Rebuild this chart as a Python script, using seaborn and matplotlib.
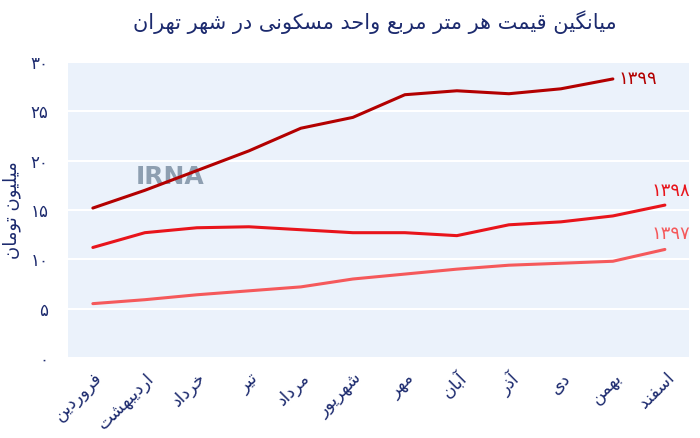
import numpy as np
import pandas as pd
import seaborn as sns
import matplotlib.pyplot as plt

# données (millions de tomans / m2)
mois = ["فروردین", "اردیبهشت", "خرداد", "تیر", "مرداد", "شهریور",
        "مهر", "آبان", "آذر", "دی", "بهمن", "اسفند"]
prix_1397 = [5.5, 5.9, 6.4, 6.8, 7.2, 8.0, 8.5, 9.0, 9.4, 9.6, 9.8, 11.0]
prix_1398 = [11.2, 12.7, 13.2, 13.3, 13.0, 12.7, 12.7, 12.4, 13.5, 13.8, 14.4, 15.5]
prix_1399 = [15.2, 17.0, 19.0, 21.0, 23.3, 24.4, 26.7, 27.1, 26.8, 27.3, 28.3, np.nan]
annees = ["۱۳۹۷", "۱۳۹۸", "۱۳۹۹"]
couleurs = ["#f5595b", "#e8141b", "#b30000"]
titre = "میانگین قیمت هر متر مربع واحد مسکونی در شهر تهران"
label_y = "میلیون تومان"
ticks_y = [0, 5, 10, 15, 20, 25, 30]
labels_y = ["۰", "۵", "۱۰", "۱۵", "۲۰", "۲۵", "۳۰"]

# mise en forme minimale des lettres persanes (matplotlib ne fait pas le shaping)
FORMES = {
    "ا": ("\ufe8d", "\ufe8e", None, None), "آ": ("\ufe81", "\ufe82", None, None),
    "ب": ("\ufe8f", "\ufe90", "\ufe91", "\ufe92"), "ت": ("\ufe95", "\ufe96", "\ufe97", "\ufe98"),
    "ح": ("\ufea1", "\ufea2", "\ufea3", "\ufea4"), "خ": ("\ufea5", "\ufea6", "\ufea7", "\ufea8"),
    "د": ("\ufea9", "\ufeaa", None, None), "ذ": ("\ufeab", "\ufeac", None, None),
    "ر": ("\ufead", "\ufeae", None, None), "س": ("\ufeb1", "\ufeb2", "\ufeb3", "\ufeb4"),
    "ش": ("\ufeb5", "\ufeb6", "\ufeb7", "\ufeb8"), "ع": ("\ufec9", "\ufeca", "\ufecb", "\ufecc"),
    "ف": ("\ufed1", "\ufed2", "\ufed3", "\ufed4"), "ق": ("\ufed5", "\ufed6", "\ufed7", "\ufed8"),
    "ک": ("\ufb8e", "\ufb8f", "\ufb90", "\ufb91"), "گ": ("\ufb92", "\ufb93", "\ufb94", "\ufb95"),
    "ل": ("\ufedd", "\ufede", "\ufedf", "\ufee0"), "م": ("\ufee1", "\ufee2", "\ufee3", "\ufee4"),
    "ن": ("\ufee5", "\ufee6", "\ufee7", "\ufee8"), "ه": ("\ufee9", "\ufeea", "\ufeeb", "\ufeec"),
    "و": ("\ufeed", "\ufeee", None, None), "ی": ("\ufbfc", "\ufbfd", "\ufbfe", "\ufbff"),
}


def persan(txt):
    out = []
    for i, c in enumerate(txt):
        if c not in FORMES:
            out.append(c)
            continue
        prev = txt[i - 1] if i > 0 else ""
        nxt = txt[i + 1] if i + 1 < len(txt) else ""
        lie_avant = prev in FORMES and FORMES[prev][2] is not None
        lie_apres = nxt in FORMES and FORMES[c][2] is not None
        iso, fin, ini, med = FORMES[c]
        if lie_avant and lie_apres:
            out.append(med)
        elif lie_avant:
            out.append(fin)
        elif lie_apres:
            out.append(ini)
        else:
            out.append(iso)
    return "".join(out)[::-1]


df = pd.DataFrame({
    "mois": list(range(12)) * 3,
    "prix": prix_1397 + prix_1398 + prix_1399,
    "annee": [a for a in annees for _ in range(12)],
})

sns.set_style("white")
plt.rcParams["font.family"] = ["DejaVu Sans"]
bleu = "#1c2a6e"

fig = plt.figure(figsize=(7, 4.38), dpi=100)
ax = fig.add_axes([0.097, 0.183, 0.887, 0.675])
ax.set_facecolor("#ebf2fb")

sns.lineplot(data=df, x="mois", y="prix", hue="annee",
             palette=dict(zip(annees, couleurs)), linewidth=2.2,
             legend=False, ax=ax)

ax.set_xlim(-0.48, 11.46)
ax.set_ylim(0, 29.8)
ax.set_yticks(ticks_y)
ax.set_yticklabels(labels_y, color=bleu, fontsize=12)
ax.set_xticks(range(12))
ax.set_xticklabels([persan(m) for m in mois], rotation=45, ha="right",
                   rotation_mode="anchor", color=bleu, fontsize=12.5)
ax.tick_params(axis="y", length=0, pad=14)
ax.tick_params(axis="x", length=0, pad=8)
ax.grid(axis="y", color="white", linewidth=1.5)
ax.set_axisbelow(True)
for s in ax.spines.values():
    s.set_visible(False)
ax.set_xlabel("")
ax.set_ylabel(persan(label_y), color=bleu, fontsize=13)
ax.yaxis.set_label_coords(-0.076, 0.5)

# étiquettes des séries
ax.annotate(annees[2], (10, prix_1399[10]), xytext=(4, 0), textcoords="offset points",
            color=couleurs[2], fontsize=13, va="center", ha="left")
ax.annotate(annees[1], (11, prix_1398[11]), xytext=(4, 10), textcoords="offset points",
            color=couleurs[1], fontsize=13, va="center", ha="center")
ax.annotate(annees[0], (11, prix_1397[11]), xytext=(4, 11), textcoords="offset points",
            color=couleurs[0], fontsize=13, va="center", ha="center")

# filigrane
ax.text(0.164, 0.61, "IRNA", transform=ax.transAxes, fontsize=18, color="#6f8498",
        fontweight="bold", alpha=0.75, ha="center", va="center", zorder=0)

fig.text(0.535, 0.95, persan(titre), ha="center", va="center", color=bleu, fontsize=15)

plt.savefig("out.png", dpi=100)
